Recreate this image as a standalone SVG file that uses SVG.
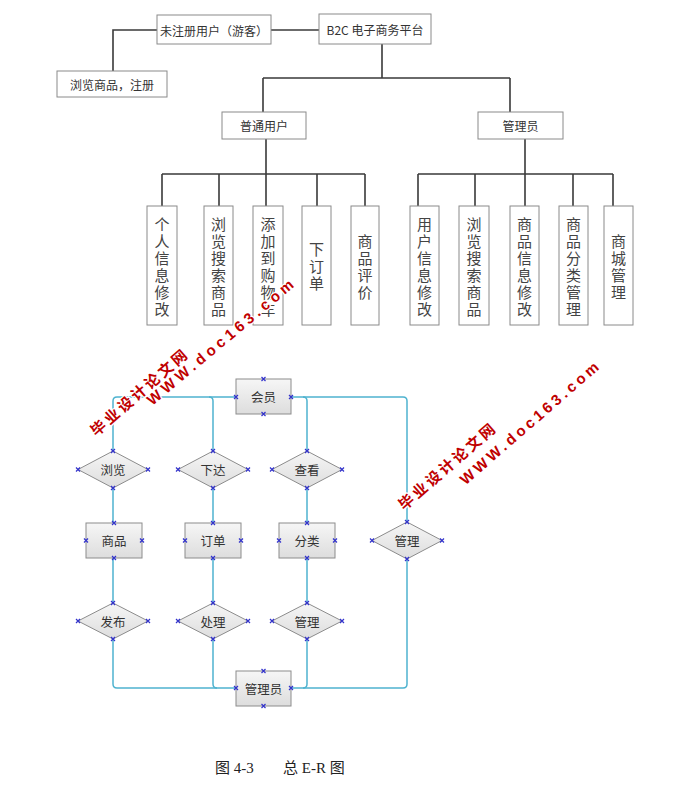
<svg xmlns="http://www.w3.org/2000/svg" xmlns:xlink="http://www.w3.org/1999/xlink" width="689" height="803" viewBox="0 0 689 803">
<defs>
  <linearGradient id="gf" x1="0" y1="0" x2="0" y2="1">
    <stop offset="0" stop-color="#f6f6f6"/>
    <stop offset="1" stop-color="#dddddd"/>
  </linearGradient>
  <path id="xm" d="M-2,-2 L2,2 M-2,2 L2,-2" stroke="#3333cc" stroke-width="1.2" fill="none"/>
</defs>
<style>
  .tb { fill: #ffffff; stroke: #8a8a8a; stroke-width: 1; }
  .tt { font-family: "Noto Sans CJK SC", "Liberation Sans", sans-serif; font-size: 12px; fill: #333; text-anchor: middle; dominant-baseline: central; }
  .vt { font-family: "Noto Sans CJK SC", sans-serif; font-size: 15px; fill: #444; text-anchor: middle; writing-mode: vertical-rl; }
  .tl { fill: none; stroke: #3a3a3a; stroke-width: 1.6; }
  .eb { fill: url(#gf); stroke: #8c8c8c; stroke-width: 1; }
  .et { font-family: "Noto Sans CJK SC", sans-serif; font-size: 12.5px; fill: #333; text-anchor: middle; dominant-baseline: central; }
  .el { fill: none; stroke: #4fb3cf; stroke-width: 1.5; }
  .wm { font-family: "Noto Sans CJK SC", "Liberation Sans", sans-serif; font-weight: bold; font-size: 15px; fill: #c00000; stroke: #ffffff; stroke-width: 2.5; paint-order: stroke; text-anchor: middle; dominant-baseline: central; }
  .wl { font-family: "Liberation Sans", sans-serif; font-weight: bold; font-size: 15px; fill: #c00000; stroke: #ffffff; stroke-width: 2.5; paint-order: stroke; text-anchor: middle; dominant-baseline: central; }
  .cap { font-family: "Liberation Serif", "Noto Sans CJK SC", serif; font-size: 15px; fill: #222; }
</style>
<rect width="689" height="803" fill="#ffffff"/>

<!-- top tree connectors -->
<g id="tree-connectors">
  <path class="tl" d="M157,30 H113 V71"/>
  <path class="tl" d="M271,30 H319"/>
  <path class="tl" d="M382,44 V78 M263,78 H510 M263,78 V112 M510,78 V112"/>
  <path class="tl" d="M266,139 V206 M162,174 H365 M162,174 V206 M219,174 V206 M317,174 V206 M365,174 V206"/>
  <path class="tl" d="M525,139 V206 M418,174 H613 M418,174 V206 M475,174 V206 M573,174 V206 M613,174 V206"/>
</g>

<g id="guest"><rect class="tb" x="157" y="15" width="114" height="29"/><text class="tt" x="214" y="30">未注册用户（游客）</text></g>
<g id="platform"><rect class="tb" x="319" y="14" width="112" height="30"/><text class="tt" x="375" y="29">B2C 电子商务平台</text></g>
<g id="browse-register"><rect class="tb" x="57" y="71" width="110" height="26"/><text class="tt" x="112" y="84">浏览商品，注册</text></g>
<g id="user"><rect class="tb" x="222" y="112" width="84" height="27"/><text class="tt" x="264" y="125.5">普通用户</text></g>
<g id="admin"><rect class="tb" x="478" y="112" width="85" height="27"/><text class="tt" x="520.5" y="125.5">管理员</text></g>

<g id="u1"><rect class="tb" x="147" y="206" width="30" height="119"/><text class="vt"><tspan x="162" y="224">个</tspan><tspan x="162" y="241">人</tspan><tspan x="162" y="258">信</tspan><tspan x="162" y="275">息</tspan><tspan x="162" y="292">修</tspan><tspan x="162" y="309">改</tspan></text></g>
<g id="u2"><rect class="tb" x="204" y="206" width="29" height="119"/><text class="vt"><tspan x="218.5" y="224">浏</tspan><tspan x="218.5" y="241">览</tspan><tspan x="218.5" y="258">搜</tspan><tspan x="218.5" y="275">索</tspan><tspan x="218.5" y="292">商</tspan><tspan x="218.5" y="309">品</tspan></text></g>
<g id="u3"><rect class="tb" x="253" y="206" width="30" height="119"/><text class="vt"><tspan x="268" y="224">添</tspan><tspan x="268" y="241">加</tspan><tspan x="268" y="258">到</tspan><tspan x="268" y="275">购</tspan><tspan x="268" y="292">物</tspan><tspan x="268" y="309">车</tspan></text></g>
<g id="u4"><rect class="tb" x="302" y="206" width="29" height="119"/><text class="vt"><tspan x="316.5" y="249.5">下</tspan><tspan x="316.5" y="266.5">订</tspan><tspan x="316.5" y="283.5">单</tspan></text></g>
<g id="u5"><rect class="tb" x="351" y="206" width="28" height="119"/><text class="vt"><tspan x="365" y="241">商</tspan><tspan x="365" y="258">品</tspan><tspan x="365" y="275">评</tspan><tspan x="365" y="292">价</tspan></text></g>

<g id="a1"><rect class="tb" x="410" y="206" width="29" height="119"/><text class="vt"><tspan x="424.5" y="224">用</tspan><tspan x="424.5" y="241">户</tspan><tspan x="424.5" y="258">信</tspan><tspan x="424.5" y="275">息</tspan><tspan x="424.5" y="292">修</tspan><tspan x="424.5" y="309">改</tspan></text></g>
<g id="a2"><rect class="tb" x="459" y="206" width="30" height="119"/><text class="vt"><tspan x="474" y="224">浏</tspan><tspan x="474" y="241">览</tspan><tspan x="474" y="258">搜</tspan><tspan x="474" y="275">索</tspan><tspan x="474" y="292">商</tspan><tspan x="474" y="309">品</tspan></text></g>
<g id="a3"><rect class="tb" x="510" y="206" width="29" height="119"/><text class="vt"><tspan x="524.5" y="224">商</tspan><tspan x="524.5" y="241">品</tspan><tspan x="524.5" y="258">信</tspan><tspan x="524.5" y="275">息</tspan><tspan x="524.5" y="292">修</tspan><tspan x="524.5" y="309">改</tspan></text></g>
<g id="a4"><rect class="tb" x="559" y="206" width="29" height="119"/><text class="vt"><tspan x="573.5" y="224">商</tspan><tspan x="573.5" y="241">品</tspan><tspan x="573.5" y="258">分</tspan><tspan x="573.5" y="275">类</tspan><tspan x="573.5" y="292">管</tspan><tspan x="573.5" y="309">理</tspan></text></g>
<g id="a5"><rect class="tb" x="604" y="206" width="29" height="119"/><text class="vt"><tspan x="618.5" y="241">商</tspan><tspan x="618.5" y="258">城</tspan><tspan x="618.5" y="275">管</tspan><tspan x="618.5" y="292">理</tspan></text></g>

<!-- ER connectors -->
<g id="er-connectors">
  <path class="el" d="M236,397 H117 Q113,397 113,401 V451"/>
  <path class="el" d="M209,397 Q213,397 213,401 V451"/>
  <path class="el" d="M291,397 H403 Q407,397 407,401 V522"/>
  <path class="el" d="M303,397 Q307,397 307,401 V451"/>
  <path class="el" d="M113,488 V523 M113,558 V603 M213,488 V523 M213,558 V603 M307,488 V523 M307,558 V603"/>
  <path class="el" d="M113,639 V684 Q113,688 117,688 H236"/>
  <path class="el" d="M213,639 V684 Q213,688 217,688"/>
  <path class="el" d="M307,639 V684 Q307,688 303,688"/>
  <path class="el" d="M291,688 H403 Q407,688 407,684 V558"/>
</g>

<g id="member"><rect class="eb" x="236" y="379" width="55" height="35"/><text class="et" x="263.5" y="396.5">会员</text></g>
<g id="r-browse"><polygon class="eb" points="113,451 148,469.5 113,488 78,469.5"/><text class="et" x="113" y="469.5">浏览</text></g>
<g id="r-place"><polygon class="eb" points="213,451 248,469.5 213,488 178,469.5"/><text class="et" x="213" y="469.5">下达</text></g>
<g id="r-view"><polygon class="eb" points="307,451 342,469.5 307,488 272,469.5"/><text class="et" x="307" y="469.5">查看</text></g>
<g id="e-goods"><rect class="eb" x="86" y="523" width="56" height="35"/><text class="et" x="114" y="540.5">商品</text></g>
<g id="e-order"><rect class="eb" x="185" y="523" width="56" height="35"/><text class="et" x="213" y="540.5">订单</text></g>
<g id="e-cat"><rect class="eb" x="279" y="523" width="56" height="35"/><text class="et" x="307" y="540.5">分类</text></g>
<g id="r-manage-r"><polygon class="eb" points="407,522 442,540.5 407,559 372,540.5"/><text class="et" x="407" y="540.5">管理</text></g>
<g id="r-publish"><polygon class="eb" points="113,603 148,621 113,639 78,621"/><text class="et" x="113" y="621">发布</text></g>
<g id="r-process"><polygon class="eb" points="213,603 248,621 213,639 178,621"/><text class="et" x="213" y="621">处理</text></g>
<g id="r-manage"><polygon class="eb" points="307,603 342,621 307,639 272,621"/><text class="et" x="307" y="621">管理</text></g>
<g id="e-admin"><rect class="eb" x="236" y="671" width="55" height="35"/><text class="et" x="263.5" y="688.5">管理员</text></g>

<g id="xmarks">
  <use href="#xm" x="263.5" y="379"/><use href="#xm" x="263.5" y="414"/><use href="#xm" x="236" y="397"/><use href="#xm" x="291" y="397"/>
  <use href="#xm" x="113" y="451"/><use href="#xm" x="113" y="488"/><use href="#xm" x="78" y="469.5"/><use href="#xm" x="148" y="469.5"/>
  <use href="#xm" x="213" y="451"/><use href="#xm" x="213" y="488"/><use href="#xm" x="178" y="469.5"/><use href="#xm" x="248" y="469.5"/>
  <use href="#xm" x="307" y="451"/><use href="#xm" x="307" y="488"/><use href="#xm" x="272" y="469.5"/><use href="#xm" x="342" y="469.5"/>
  <use href="#xm" x="114" y="523"/><use href="#xm" x="114" y="558"/><use href="#xm" x="86" y="540.5"/><use href="#xm" x="142" y="540.5"/>
  <use href="#xm" x="213" y="523"/><use href="#xm" x="213" y="558"/><use href="#xm" x="185" y="540.5"/><use href="#xm" x="241" y="540.5"/>
  <use href="#xm" x="307" y="523"/><use href="#xm" x="307" y="558"/><use href="#xm" x="279" y="540.5"/><use href="#xm" x="335" y="540.5"/>
  <use href="#xm" x="407" y="522"/><use href="#xm" x="407" y="559"/><use href="#xm" x="372" y="540.5"/><use href="#xm" x="442" y="540.5"/>
  <use href="#xm" x="113" y="603"/><use href="#xm" x="113" y="639"/><use href="#xm" x="78" y="621"/><use href="#xm" x="148" y="621"/>
  <use href="#xm" x="213" y="603"/><use href="#xm" x="213" y="639"/><use href="#xm" x="178" y="621"/><use href="#xm" x="248" y="621"/>
  <use href="#xm" x="307" y="603"/><use href="#xm" x="307" y="639"/><use href="#xm" x="272" y="621"/><use href="#xm" x="342" y="621"/>
  <use href="#xm" x="263.5" y="671"/><use href="#xm" x="263.5" y="706"/><use href="#xm" x="236" y="688"/><use href="#xm" x="291" y="688"/>
</g>

<!-- watermarks -->
<g id="watermarks">
  <text class="wm" x="138" y="392" transform="rotate(-41 138 392)" textLength="122" lengthAdjust="spacing">毕业设计论文网</text>
  <text class="wl" x="220" y="342" transform="rotate(-40 220 342)" textLength="186" lengthAdjust="spacing">WWW.doc163.com</text>
  <text class="wm" x="446" y="466" transform="rotate(-41 446 466)" textLength="122" lengthAdjust="spacing">毕业设计论文网</text>
  <text class="wl" x="529" y="423" transform="rotate(-41 529 423)" textLength="178" lengthAdjust="spacing">WWW.doc163.com</text>
</g>

<text class="cap" x="215" y="773">图 4-3</text>
<text class="cap" x="283" y="773">总 E-R 图</text>
</svg>
